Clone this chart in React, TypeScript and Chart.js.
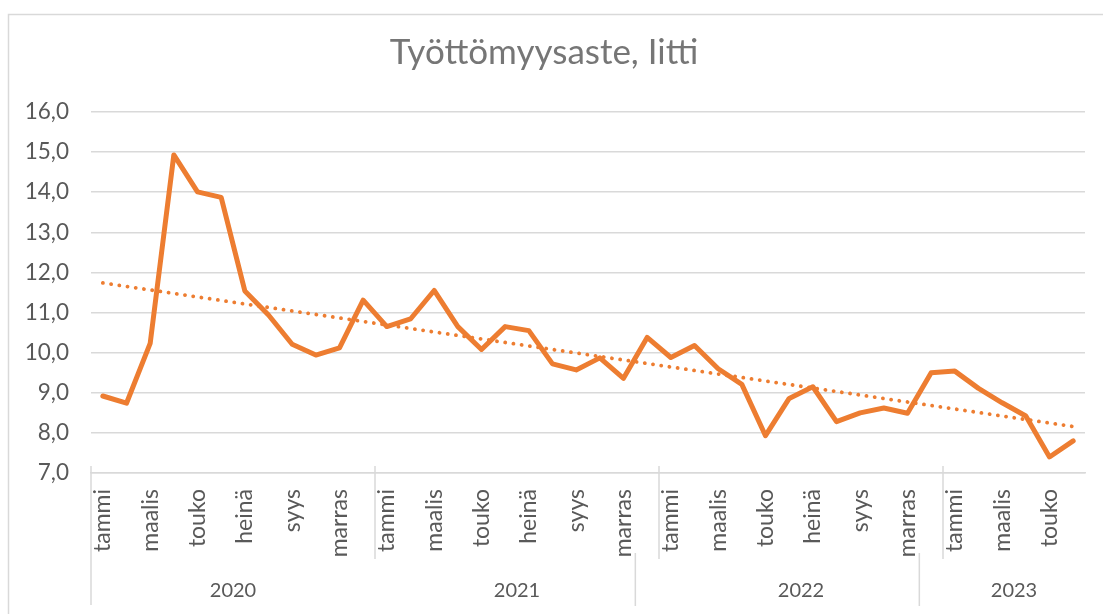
import { useEffect, useRef } from 'react';
import { Chart, registerables } from 'chart.js';

Chart.register(...registerables);

const TITLE = 'Työttömyysaste, Iitti';
const MONTHS = ['tammi', 'helmi', 'maalis', 'huhti', 'touko', 'kesä', 'heinä', 'elo', 'syys', 'loka', 'marras', 'joulu'];
const YEARS = ['2020', '2021', '2022', '2023'];
const MONTHS_PER_YEAR = [12, 12, 12, 6];
const RATE_2020 = [8.92, 8.74, 10.23, 14.93, 14.01, 13.87, 11.54, 10.94, 10.21, 9.94, 10.12, 11.31];
const RATE_2021 = [10.65, 10.84, 11.55, 10.65, 10.08, 10.65, 10.55, 9.72, 9.57, 9.87, 9.36, 10.38];
const RATE_2022 = [9.88, 10.18, 9.6, 9.21, 7.93, 8.86, 9.15, 8.28, 8.5, 8.62, 8.49, 9.5];
const RATE_2023 = [9.54, 9.11, 8.75, 8.42, 7.4, 7.8];
const Y_MIN = 7;
const Y_MAX = 16;
const Y_STEP = 1;

const FONT = 'Lato, "Open Sans", sans-serif';
const TEXT = '#595959';
const GRID = '#d9d9d9';
const ORANGE = '#ED7D31';

const labels: string[] = [];
YEARS.forEach((_, yi) => {
  for (let m = 0; m < MONTHS_PER_YEAR[yi]; m++) labels.push(MONTHS[m]);
});
const values = [...RATE_2020, ...RATE_2021, ...RATE_2022, ...RATE_2023];

// linear trendline (least squares), as Excel draws it
function trend(v: number[]) {
  const n = v.length;
  let sx = 0, sy = 0, sxx = 0, sxy = 0;
  v.forEach((y, i) => { sx += i; sy += y; sxx += i * i; sxy += i * y; });
  const b = (n * sxy - sx * sy) / (n * sxx - sx * sx);
  const a = (sy - b * sx) / n;
  return v.map((_, i) => a + b * i);
}

const decorPlugin = {
  id: 'decor',
  beforeDraw(chart: any) {
    const ctx = chart.ctx;
    ctx.save();
    ctx.fillStyle = '#ffffff';
    ctx.fillRect(0, 0, chart.width, chart.height);
    ctx.strokeStyle = GRID;
    ctx.lineWidth = 1.5;
    ctx.strokeRect(8.5, 14.5, chart.width + 20, chart.height + 20);
    ctx.restore();
  },
  afterDraw(chart: any) {
    const ctx = chart.ctx;
    const xs = chart.scales.x;
    const area = chart.chartArea;
    ctx.save();
    // title
    ctx.fillStyle = '#767676';
    ctx.font = `35px ${FONT}`;
    ctx.textAlign = 'center';
    ctx.textBaseline = 'alphabetic';
    ctx.fillText(TITLE, 544, 64);

    const band = (area.right - area.left) / labels.length;
    ctx.strokeStyle = GRID;
    ctx.lineWidth = 1.5;
    // year separators
    let idx = 0;
    const bounds: number[] = [];
    MONTHS_PER_YEAR.forEach((n) => {
      bounds.push(xs.getPixelForValue(idx) - band / 2);
      idx += n;
    });
    bounds.push(xs.getPixelForValue(idx - 1) + band / 2);
    ctx.beginPath();
    ctx.moveTo(bounds[0], area.bottom - 7);
    ctx.lineTo(bounds[0], area.bottom + 132);
    for (let i = 1; i < bounds.length - 1; i++) {
      ctx.moveTo(bounds[i], area.bottom - 7);
      ctx.lineTo(bounds[i], area.bottom + 86);
    }
    // lower separators (shifted, as in the original)
    for (let i = 2; i < bounds.length - 1; i++) {
      const x = bounds[i] - band;
      ctx.moveTo(x, area.bottom + 80);
      ctx.lineTo(x, area.bottom + 133);
    }
    ctx.stroke();

    // year labels
    ctx.fillStyle = TEXT;
    ctx.font = `20px ${FONT}`;
    ctx.textBaseline = 'middle';
    ctx.textAlign = 'center';
    YEARS.forEach((y, i) => {
      ctx.fillText(y, (bounds[i] + bounds[i + 1]) / 2, area.bottom + 118);
    });
    ctx.restore();
  },
};

export default function App() {
  const ref = useRef<HTMLCanvasElement>(null);
  useEffect(() => {
    if (!ref.current) return;
    const chart = new Chart(ref.current, {
      type: 'line',
      data: {
        labels,
        datasets: [
          {
            label: 'Trend',
            data: trend(values),
            borderColor: ORANGE,
            borderWidth: 3.8,
            borderDash: [0.1, 8.2],
            borderCapStyle: 'round',
            pointRadius: 0,
            fill: false,
          },
          {
            label: TITLE,
            data: values,
            borderColor: ORANGE,
            borderWidth: 5,
            borderJoinStyle: 'round',
            borderCapStyle: 'round',
            pointRadius: 0,
            tension: 0,
            fill: false,
          },
        ],
      },
      options: {
        animation: false,
        responsive: false,
        maintainAspectRatio: false,
        layout: { padding: { top: 112, right: 18, left: 0, bottom: 0 } },
        plugins: { legend: { display: false }, tooltip: { enabled: false }, title: { display: false } },
        scales: {
          x: {
            type: 'category',
            offset: true,
            grid: { display: false, drawTicks: false },
            border: { display: true, color: GRID, width: 1.5 },
            ticks: {
              autoSkip: false,
              maxRotation: 90,
              minRotation: 90,
              padding: 16,
              color: TEXT,
              font: { family: FONT, size: 23 },
              callback: (_v: any, i: number) => (i % 2 === 0 ? labels[i] : ''),
            },
            afterFit: (s: any) => {
              s.height = 141;
              s.paddingLeft = 0;
              s.paddingRight = 0;
            },
          },
          y: {
            min: Y_MIN,
            max: Y_MAX,
            ticks: {
              stepSize: Y_STEP,
              padding: 22,
              color: TEXT,
              font: { family: FONT, size: 22.5 },
              callback: (v: any) => Number(v).toFixed(1).replace('.', ','),
            },
            grid: { color: GRID, lineWidth: 1.5, drawTicks: false },
            border: { display: false },
            afterFit: (s: any) => { s.width = 91; },
          },
        },
      },
      plugins: [decorPlugin],
    });
    return () => chart.destroy();
  }, []);
  return (
    <div style={{ position: 'fixed', left: 0, top: 0, width: 1103, height: 614, background: '#fff' }}>
      <canvas ref={ref} width={1103} height={614} style={{ display: 'block' }} />
    </div>
  );
}
